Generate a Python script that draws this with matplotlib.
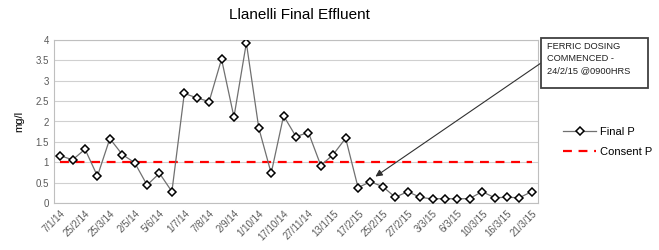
import numpy as np
from matplotlib import pyplot as plt
from matplotlib.patches import Rectangle

plt.rcParams['font.family'] = ['Liberation Sans', 'DejaVu Sans']

# Final P readings (mg/l), one per sample
final_p = [1.16, 1.06, 1.32, 0.66, 1.58, 1.19, 0.99, 0.44, 0.73, 0.28,
           2.69, 2.58, 2.49, 3.53, 2.11, 3.93, 1.84, 0.73, 2.14, 1.63,
           1.73, 0.92, 1.19, 1.59, 0.38, 0.52, 0.40, 0.14, 0.28, 0.14,
           0.10, 0.11, 0.10, 0.11, 0.28, 0.13, 0.14, 0.13, 0.28]
consent_p = [1.0] * len(final_p)

# only every other sample date is shown on the axis
date_labels = ['7/1/14', '25/2/14', '25/3/14', '2/5/14', '5/6/14', '1/7/14',
               '7/8/14', '2/9/14', '1/10/14', '17/10/14', '27/11/14', '13/1/15',
               '17/2/15', '25/2/15', '27/2/15', '3/3/15', '6/3/15', '10/3/15',
               '16/3/15', '21/3/15']

grey = '#595959'
W, H = 659, 250
x = np.arange(len(final_p))

fig = plt.figure(figsize=(W / 100, H / 100), dpi=100)
ax = fig.add_axes([54 / W, 47 / H, 484 / W, 163 / H])

ax.plot(x, final_p, color='#707070', lw=0.9, marker='D', ms=4.0,
        mfc='white', mec='black', mew=1.1, label='Final P', zorder=3)
ax.plot(x, consent_p, color='#ff0000', lw=1.6, ls=(0, (4, 3)),
        label='Consent P', zorder=2)

ax.set_xlim(-0.5, len(final_p) - 0.5)
ax.set_ylim(0, 4)
ax.set_yticks(np.arange(0, 4.01, 0.5))
ax.set_yticklabels(['0', '0.5', '1', '1.5', '2', '2.5', '3', '3.5', '4'])
ax.set_xticks(x[::2])
ax.set_xticklabels(date_labels, rotation=45, ha='right', rotation_mode='anchor')
ax.tick_params(axis='both', length=0, labelsize=7, colors=grey)
ax.tick_params(axis='x', pad=4)
ax.grid(axis='y', color='#d0d0d0', lw=0.8)
ax.set_axisbelow(True)
for s in ax.spines.values():
    s.set_color('#bfbfbf')
    s.set_linewidth(0.8)

ax.set_ylabel('mg/l', fontsize=8, color='black', labelpad=8)
fig.text(0.455, 0.94, 'Llanelli Final Effluent', ha='center', va='center',
         fontsize=11, color='black')

# callout box + arrow to the first dosed sample
fig.patches.append(Rectangle((541 / W, 1 - 88 / H), 107 / W, 50 / H,
                             transform=fig.transFigure, fc='white',
                             ec='#404040', lw=1.3, zorder=5))
fig.text(547 / W, 1 - 42 / H, 'FERRIC DOSING\nCOMMENCED -\n24/2/15 @0900HRS',
         ha='left', va='top', fontsize=6.7, linespacing=1.45, color='#202020',
         zorder=6)
ax.annotate('', xy=(25.4, final_p[25] + 0.13), xycoords='data',
            xytext=(541 / W, 1 - 63 / H), textcoords='figure fraction',
            arrowprops=dict(arrowstyle='-|>', color='#303030', lw=0.8,
                            shrinkA=0, shrinkB=0, mutation_scale=10),
            annotation_clip=False)

fig.legend(loc='center left', bbox_to_anchor=(553 / W, 1 - 142 / H),
           frameon=False, fontsize=8, handlelength=3.0, labelspacing=0.9,
           handletextpad=0.3)

plt.savefig('out.png', dpi=100)
